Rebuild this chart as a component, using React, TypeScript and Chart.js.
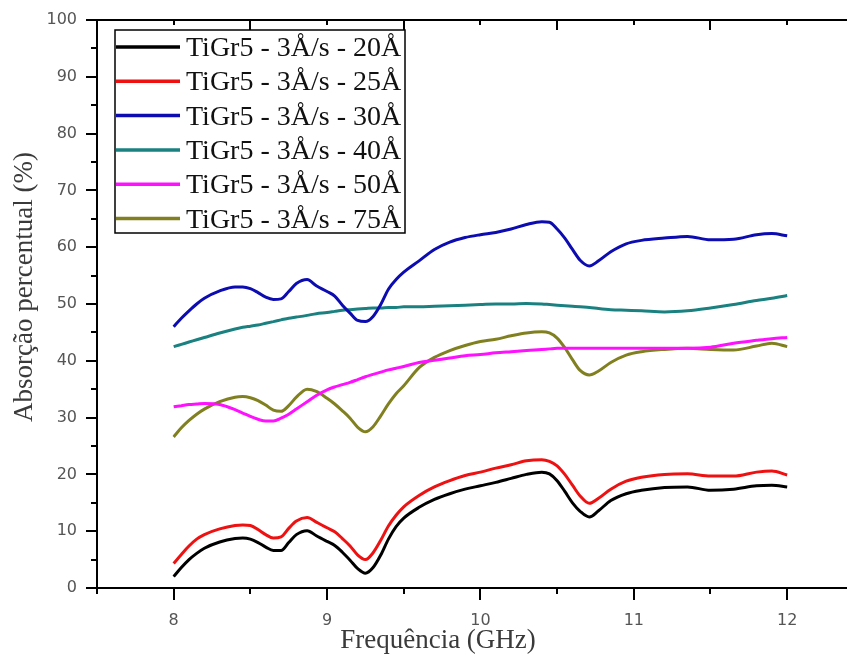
import React, { useEffect, useRef } from 'react';
import { Chart, registerables } from 'chart.js';

Chart.register(...registerables);

// Frequency grid (GHz)
const frequencies = [
  8.0, 8.05, 8.1, 8.15, 8.2, 8.3, 8.4, 8.45, 8.5, 8.55, 8.6, 8.65, 8.7, 8.75, 8.8, 8.87, 8.93,
  9.0, 9.05, 9.1, 9.15, 9.2, 9.25, 9.3, 9.35, 9.4, 9.45, 9.5, 9.6, 9.7, 9.8, 9.9,
  10.0, 10.1, 10.2, 10.3, 10.4, 10.45, 10.5, 10.55, 10.6, 10.65, 10.71, 10.77, 10.85, 10.95,
  11.05, 11.2, 11.35, 11.5, 11.65, 11.8, 11.9, 12.0,
];

const seriesLabels = [
  'TiGr5 - 3Å/s - 20Å',
  'TiGr5 - 3Å/s - 25Å',
  'TiGr5 - 3Å/s - 30Å',
  'TiGr5 - 3Å/s - 40Å',
  'TiGr5 - 3Å/s - 50Å',
  'TiGr5 - 3Å/s - 75Å',
];

const seriesColors = ['#000000', '#ee1111', '#0c0cb0', '#1a8080', '#ff10ff', '#808020'];

const absorption20 = [
  2.0, 3.6, 5.0, 6.1, 7.0, 8.1, 8.7, 8.8, 8.6, 8.0, 7.2, 6.6, 6.6, 8.0, 9.4, 10.1, 9.2,
  8.2, 7.5, 6.3, 4.9, 3.4, 2.6, 3.6, 5.8, 8.6, 10.8, 12.3, 14.2, 15.6, 16.6, 17.4,
  18.0, 18.6, 19.3, 20.0, 20.4, 20.1, 18.9, 17.0, 15.0, 13.5, 12.5, 13.6, 15.4, 16.6,
  17.2, 17.7, 17.8, 17.2, 17.4, 18.0, 18.1, 17.8,
];

const absorption25 = [
  4.3, 5.9, 7.4, 8.6, 9.4, 10.4, 11.0, 11.1, 11.0, 10.3, 9.4, 8.8, 9.0, 10.5, 11.8, 12.4, 11.6,
  10.6, 9.9, 8.7, 7.4, 5.8, 5.0, 6.2, 8.4, 10.9, 12.8, 14.3, 16.3, 17.8, 18.9, 19.8,
  20.4, 21.1, 21.7, 22.4, 22.6, 22.3, 21.5, 20.0, 18.1, 16.2, 14.9, 15.8, 17.4, 18.8,
  19.5, 20.0, 20.1, 19.7, 19.7, 20.4, 20.6, 19.9,
];

const absorption30 = [
  46.0, 47.5, 48.8, 50.0, 51.0, 52.3, 53.0, 53.0, 52.7, 52.0, 51.2, 50.8, 50.9, 52.2, 53.6, 54.3, 53.2,
  52.2, 51.4, 49.8, 48.4, 47.1, 46.9, 47.8, 49.9, 52.6, 54.3, 55.6, 57.6, 59.6, 60.9, 61.7,
  62.2, 62.6, 63.2, 64.0, 64.5, 64.4, 63.2, 61.6, 59.6, 57.7, 56.7, 57.6, 59.2, 60.6,
  61.2, 61.6, 61.9, 61.3, 61.4, 62.2, 62.4, 62.0,
];

const absorption40 = [
  42.5, 42.9, 43.3, 43.7, 44.1, 44.9, 45.6, 45.9, 46.1, 46.3, 46.6, 46.9, 47.2, 47.5, 47.7, 48.0, 48.3,
  48.5, 48.7, 48.9, 49.0, 49.1, 49.2, 49.3, 49.3, 49.4, 49.4, 49.5, 49.5, 49.6, 49.7, 49.8,
  49.9, 50.0, 50.0, 50.1, 50.0, 49.9, 49.8, 49.7, 49.6, 49.5, 49.4, 49.2, 49.0, 48.9,
  48.8, 48.6, 48.8, 49.3, 49.9, 50.6, 51.0, 51.5,
];

const absorption50 = [
  31.9, 32.1, 32.3, 32.4, 32.5, 32.3, 31.4, 30.8, 30.2, 29.7, 29.4, 29.4, 29.9, 30.6, 31.5, 32.8, 33.9,
  34.9, 35.4, 35.8, 36.2, 36.7, 37.2, 37.6, 38.0, 38.4, 38.7, 39.0, 39.7, 40.1, 40.5, 40.9,
  41.1, 41.4, 41.6, 41.8, 42.0, 42.1, 42.2, 42.2, 42.2, 42.2, 42.2, 42.2, 42.2, 42.2,
  42.2, 42.2, 42.2, 42.4, 43.1, 43.6, 43.9, 44.1,
];

const absorption75 = [
  26.6, 28.2, 29.5, 30.6, 31.5, 32.8, 33.6, 33.7, 33.5, 33.0, 32.2, 31.3, 31.1, 32.1, 33.6, 35.0, 34.6,
  33.4, 32.4, 31.2, 29.9, 28.3, 27.5, 28.4, 30.3, 32.4, 34.2, 35.6, 38.8, 40.6, 41.8, 42.7,
  43.4, 43.8, 44.4, 44.9, 45.1, 44.9, 44.0, 42.3, 40.2, 38.3, 37.5, 38.2, 39.7, 41.0,
  41.6, 42.0, 42.2, 42.0, 41.9, 42.6, 43.1, 42.5,
];

const xTickValues = [8, 9, 10, 11, 12];
const xMinorValues = [7.5, 8.5, 9.5, 10.5, 11.5];
const yTickValues = [0, 10, 20, 30, 40, 50, 60, 70, 80, 90, 100];
const yMinorValues = [5, 15, 25, 35, 45, 55, 65, 75, 85, 95];

const xTitle = 'Frequência (GHz)';
const yTitle = 'Absorção percentual (%)';

export default function App() {
  const ref = useRef<HTMLCanvasElement>(null);

  useEffect(() => {
    const canvas = ref.current;
    if (!canvas) return;
    const allSeries = [absorption20, absorption25, absorption30, absorption40, absorption50, absorption75];

    const datasets = allSeries.map((vals, i) => ({
      label: seriesLabels[i],
      data: frequencies.map((f, j) => ({ x: f, y: vals[j] })),
      borderColor: seriesColors[i],
      backgroundColor: seriesColors[i],
      borderWidth: 3,
      pointRadius: 0,
      tension: 0.4,
      cubicInterpolationMode: 'monotone' as const,
      fill: false,
    }));

    const framePlugin = {
      id: 'frame',
      afterDraw(chart: any) {
        const ctx = chart.ctx as CanvasRenderingContext2D;
        const { left, right, top, bottom } = chart.chartArea;
        const xs = chart.scales.x;
        const ys = chart.scales.y;
        ctx.save();
        ctx.strokeStyle = '#000';
        ctx.lineWidth = 2;
        // minor ticks on y (outward)
        ctx.beginPath();
        yMinorValues.forEach((v) => {
          const py = Math.round(ys.getPixelForValue(v));
          ctx.moveTo(left - 6, py);
          ctx.lineTo(left, py);
        });
        // minor ticks on x (outward)
        xMinorValues.forEach((v) => {
          const px = Math.round(xs.getPixelForValue(v));
          ctx.moveTo(px, bottom);
          ctx.lineTo(px, bottom + 6);
        });
        ctx.stroke();
        // top border with inward ticks
        ctx.beginPath();
        ctx.moveTo(left, top);
        ctx.lineTo(right, top);
        xTickValues.forEach((v) => {
          const px = Math.round(xs.getPixelForValue(v));
          ctx.moveTo(px, top);
          ctx.lineTo(px, top + 5);
        });
        xMinorValues.forEach((v) => {
          const px = Math.round(xs.getPixelForValue(v));
          if (px > left + 2) {
            ctx.moveTo(px, top);
            ctx.lineTo(px, top + 10);
          }
        });
        ctx.stroke();

        // axis titles
        ctx.fillStyle = '#3a3a3a';
        ctx.font = '27px "Liberation Serif", "Times New Roman", serif';
        ctx.textAlign = 'center';
        ctx.textBaseline = 'alphabetic';
        ctx.fillText(xTitle, 438, 648);
        ctx.save();
        ctx.translate(32, 287);
        ctx.rotate(-Math.PI / 2);
        ctx.fillText(yTitle, 0, 0);
        ctx.restore();

        // legend
        const bx = 115, by = 30, bw = 290, bh = 203;
        ctx.fillStyle = '#ffffff';
        ctx.fillRect(bx, by, bw, bh);
        ctx.lineWidth = 1.5;
        ctx.strokeStyle = '#000';
        ctx.strokeRect(bx, by, bw, bh);
        ctx.font = '28px "Liberation Serif", "Times New Roman", serif';
        ctx.textAlign = 'left';
        ctx.textBaseline = 'alphabetic';
        seriesLabels.forEach((lab, i) => {
          const ly = 47 + i * 34.3;
          ctx.strokeStyle = seriesColors[i];
          ctx.lineWidth = 3.5;
          ctx.beginPath();
          ctx.moveTo(116, ly);
          ctx.lineTo(180, ly);
          ctx.stroke();
          ctx.fillStyle = '#111';
          ctx.fillText(lab, 186, ly + 9);
        });
        ctx.restore();
      },
    };

    const chart = new Chart(canvas, {
      type: 'line',
      data: { datasets },
      options: {
        animation: false,
        responsive: false,
        devicePixelRatio: 1,
        layout: { padding: { left: 0, top: 20, right: 0, bottom: 0 } },
        plugins: {
          legend: { display: false },
          tooltip: { enabled: false },
        },
        scales: {
          x: {
            type: 'linear',
            position: 'bottom',
            min: 7.5,
            max: 12.39,
            afterBuildTicks: (s: any) => {
              s.ticks = xTickValues.map((v) => ({ value: v }));
            },
            afterFit: (s: any) => {
              s.height = 74;
            },
            grid: {
              drawOnChartArea: false,
              drawTicks: true,
              tickLength: 12,
              color: '#000',
              lineWidth: 2,
            },
            border: { display: true, color: '#000', width: 2 },
            ticks: {
              autoSkip: false,
              maxRotation: 0,
              padding: 11,
              color: '#555',
              font: { family: '"DejaVu Sans", sans-serif', size: 16 },
            },
          },
          y: {
            type: 'linear',
            position: 'left',
            min: 0,
            max: 100,
            afterBuildTicks: (s: any) => {
              s.ticks = yTickValues.map((v) => ({ value: v }));
            },
            afterFit: (s: any) => {
              s.width = 97;
            },
            grid: {
              drawOnChartArea: false,
              drawTicks: true,
              tickLength: 11,
              color: '#000',
              lineWidth: 2,
            },
            border: { display: true, color: '#000', width: 2 },
            ticks: {
              padding: 9,
              color: '#555',
              font: { family: '"DejaVu Sans", sans-serif', size: 16 },
            },
          },
        },
      },
      plugins: [framePlugin],
    });

    return () => chart.destroy();
  }, []);

  return (
    <div style={{ position: 'absolute', left: 0, top: 0, width: 847, height: 662, background: '#fff' }}>
      <canvas ref={ref} width={847} height={662} style={{ display: 'block', width: 847, height: 662 }} />
    </div>
  );
}
